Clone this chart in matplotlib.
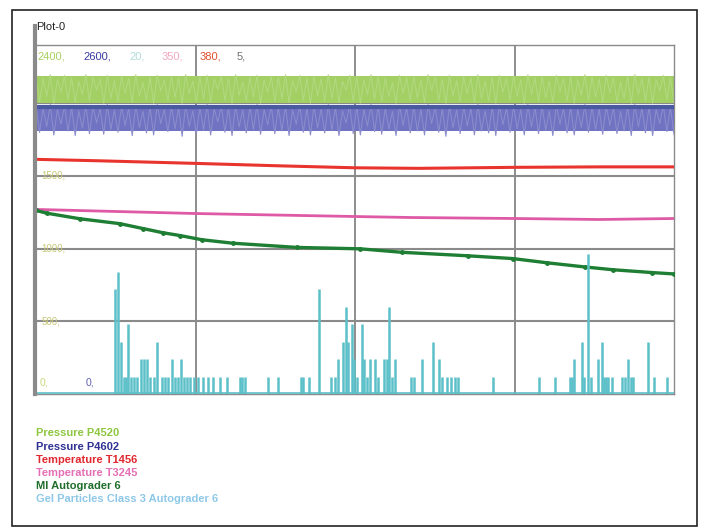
import numpy as np
import matplotlib.pyplot as plt
from matplotlib.patches import Rectangle
from matplotlib.lines import Line2D

plt.rcParams['font.family'] = ['Liberation Sans', 'DejaVu Sans']

# time axis in minutes, 4 divisions
t_end = 240

# Pressure P4520 (scale 0-2400)
p4520 = [2185, 2010, 2170, 2045, 2195, 2000, 2160, 2075, 2190, 2025, 2175, 2005,
         2150, 2060, 2195, 2015, 2180, 2090, 2165, 2000, 2190, 2035, 2155, 2010,
         2185, 2070, 2170, 2005, 2195, 2050, 2140, 2020, 2180, 2000, 2190, 2085,
         2160, 2015, 2185, 2040, 2175, 2000, 2195, 2065, 2150, 2010, 2180, 2030,
         2190, 2005, 2165, 2095, 2185, 2020, 2170, 2000, 2195, 2055, 2145, 2015,
         2180, 2040, 2190, 2000, 2160, 2075, 2185, 2010, 2175, 2030, 2195, 2005,
         2155, 2080, 2190, 2020, 2170, 2000, 2185, 2050, 2165, 2010, 2195, 2035,
         2175, 2005, 2150, 2090, 2190, 2015, 2180, 2000, 2160, 2060, 2195, 2025,
         2185, 2010, 2170, 2045, 2140, 2000, 2190, 2070, 2175, 2015, 2185, 2035,
         2160, 2005, 2195, 2085, 2180, 2020, 2165, 2000, 2190, 2050, 2155, 2010,
         2185, 2065, 2175, 2005, 2195, 2030, 2150, 2015, 2180, 2000, 2190, 2075,
         2170, 2020, 2185, 2045, 2160, 2000, 2195, 2060, 2175, 2010, 2185, 2035,
         2150, 2005, 2190, 2080, 2170, 2015, 2185, 2000, 2160, 2055, 2195, 2020,
         2180, 2040, 2165, 2005, 2190, 2070, 2175, 2010, 2145, 2030, 2185, 2000,
         2195, 2060, 2170, 2015, 2180, 2000, 2160, 2085, 2190, 2025, 2175, 2005]

# Pressure P4602 (scale 0-2600)
p4602 = [2150, 1950, 2130, 1990, 2155, 1930, 2120, 2010, 2145, 1960, 2135, 1925,
         2110, 1980, 2150, 1940, 2140, 2020, 2125, 1935, 2155, 1970, 2115, 1950,
         2145, 2000, 2130, 1925, 2150, 1985, 2105, 1945, 2140, 1930, 2155, 2015,
         2120, 1955, 2145, 1975, 2135, 1920, 2150, 1995, 2110, 1940, 2140, 1965,
         2155, 1930, 2125, 2025, 2145, 1950, 2130, 1925, 2150, 1990, 2115, 1945,
         2140, 1970, 2155, 1935, 2120, 2005, 2145, 1940, 2135, 1960, 2150, 1925,
         2115, 2010, 2150, 1950, 2130, 1930, 2145, 1980, 2125, 1945, 2155, 1965,
         2135, 1925, 2110, 2020, 2150, 1940, 2140, 1930, 2120, 1995, 2155, 1955,
         2145, 1935, 2130, 1975, 2105, 1925, 2150, 2000, 2135, 1945, 2145, 1960,
         2120, 1930, 2155, 2015, 2140, 1950, 2125, 1920, 2150, 1985, 2115, 1940,
         2145, 1995, 2135, 1930, 2155, 1960, 2110, 1945, 2140, 1925, 2150, 2005,
         2130, 1950, 2145, 1975, 2120, 1930, 2155, 1990, 2135, 1940, 2145, 1965,
         2110, 1925, 2150, 2010, 2130, 1945, 2145, 1930, 2120, 1985, 2155, 1950,
         2140, 1970, 2125, 1935, 2150, 2000, 2135, 1940, 2105, 1960, 2145, 1925,
         2155, 1990, 2130, 1945, 2140, 1925, 2120, 2015, 2150, 1955, 2135, 1935]

# Temperature T1456 (scale 0-380)
t1456_t = [0, 24, 60, 92, 120, 144, 180, 212, 240]
t1456 = [255.5, 253.9, 251.1, 248.4, 246.3, 245.7, 246.8, 247.3, 247.3]

# Temperature T3245 (scale 0-350)
t3245_t = [0, 60, 120, 141, 180, 212, 240]
t3245 = [185.1, 181.0, 178.0, 177.0, 176.0, 175.0, 176.0]

# MI Autograder 6 (scale 0-5)
mi_t = [0, 4.1, 16.6, 31.6, 40.3, 47.8, 54.2, 62.4, 74.1, 98.2, 121.9,
        137.7, 162.5, 179.4, 192.2, 206.5, 217.1, 231.7, 240]
mi = [2.63, 2.59, 2.51, 2.44, 2.37, 2.31, 2.27, 2.21, 2.16, 2.10, 2.08,
      2.03, 1.98, 1.94, 1.88, 1.82, 1.78, 1.74, 1.72]

# Gel Particles Class 3 Autograder 6 (scale 0-20), counts at event times
gel_t = [29.7, 30.8, 32.0, 33.1, 33.9, 34.6, 35.7, 36.9, 38.0, 39.5, 40.6, 41.8,
         42.9, 44.4, 45.5, 47.4, 48.5, 49.7, 51.2, 52.3, 53.4, 54.5, 55.7, 56.8,
         57.9, 59.4, 60.9, 62.8, 64.7, 66.6, 69.2, 71.9, 76.7, 77.5, 78.6, 87.3,
         91.0, 99.7, 100.4, 102.7, 106.5, 111.0, 112.5, 113.6, 115.5, 116.6, 117.4,
         118.9, 119.6, 120.8, 122.6, 123.4, 124.5, 125.6, 127.5, 128.7, 130.9, 132.0,
         132.8, 133.9, 135.1, 141.1, 142.2, 145.2, 149.3, 151.6, 152.7, 154.6, 156.1,
         157.6, 158.7, 171.9, 189.2, 195.2, 200.9, 201.6, 202.4, 205.4, 206.1, 207.7,
         208.8, 211.4, 212.9, 213.7, 214.4, 215.2, 216.7, 220.4, 221.6, 222.7, 223.8,
         224.6, 230.3, 232.5, 237.4]
gel = [6, 7, 3, 1, 1, 4, 1, 1, 1, 2, 2, 2,
       1, 1, 3, 1, 1, 1, 2, 1, 1, 2, 1, 1,
       1, 1, 1, 1, 1, 1, 1, 1, 1, 1, 1, 1,
       1, 1, 1, 1, 6, 1, 1, 2, 3, 5, 3,
       4, 2, 1, 4, 2, 1, 2, 2, 1, 2, 2,
       5, 1, 2, 1, 1, 2, 3, 2, 1, 1, 1,
       1, 1, 1, 1, 1, 1, 1, 2, 3, 1, 8,
       1, 2, 3, 1, 1, 1, 1, 1, 1, 2, 1,
       1, 3, 1, 1]

labels = ['Pressure P4520', 'Pressure P4602', 'Temperature T1456',
          'Temperature T3245', 'MI Autograder 6', 'Gel Particles Class 3 Autograder 6']
legend_colors = ['#8dc63f', '#2e3192', '#e0282e', '#e46fb5', '#1f6e2b', '#8ec8e8']
top_labels = ['2400,', '2600,', '20,', '350,', '380,', '5,']
top_colors = ['#a8d060', '#3a3aa0', '#b0dcd8', '#f0a8c0', '#e05030', '#707070']

fig = plt.figure(figsize=(7.04, 5.32), dpi=100)
fig.patches.append(Rectangle((12 / 704, 1 - 526 / 532), 685 / 704, 516 / 532,
                             transform=fig.transFigure, fill=False,
                             edgecolor='#222222', lw=1.2))
# left axis bar reaching up to the title
fig.lines.append(Line2D([35 / 704, 35 / 704], [1 - 394 / 532, 1 - 26 / 532],
                        transform=fig.transFigure, color='#8a8a8a', lw=3))

ax = fig.add_axes([36 / 704, 1 - 394 / 532, 638 / 704, 349 / 532])
ax.set_xlim(0, t_end)
ax.set_ylim(0, 2400)
for v in [60, 120, 180]:
    ax.axvline(v, color='#7a7a7a', lw=1.2, zorder=0)
for h in [500, 1000, 1500, 2000]:
    ax.axhline(h, color='#8a8a8a', lw=1.5, zorder=0)
ax.set_xticks([])
ax.set_yticks([])
for s in ['top', 'right', 'bottom']:
    ax.spines[s].set_color('#8a8a8a')
    ax.spines[s].set_linewidth(1.0)
ax.spines['left'].set_visible(False)

def overlay(ymax):
    a = ax.twinx()
    a.set_ylim(0, ymax)
    a.set_yticks([])
    for s in a.spines.values():
        s.set_visible(False)
    return a

# noisy pressures: solid core of the band, trace on top gives the texture
t_noise = np.linspace(0, t_end, len(p4520))
ax.fill_between(t_noise, min(p4520), np.percentile(p4520, 80),
                color='#a2d064', lw=0, zorder=2)
ax.plot(t_noise, p4520, color='#b2d880', lw=0.8, zorder=2)

ax_b = overlay(2600)
t_noise_b = np.linspace(0, t_end, len(p4602))
ax_b.fill_between(t_noise_b, np.percentile(p4602, 28), max(p4602),
                  color='#7072c2', lw=0)
ax_b.plot(t_noise_b, p4602, color='#8a8ccc', lw=0.8)
ax_b.axhline(max(p4602) - 20, color='#4a5aa0', lw=3)

ax_r = overlay(380)
ax_r.plot(t1456_t, t1456, color='#e8342c', lw=2.2)

ax_p = overlay(350)
ax_p.plot(t3245_t, t3245, color='#de5aa6', lw=2.0)

ax_m = overlay(5)
ax_m.plot(mi_t, mi, color='#1e7e34', lw=2.4, marker='o', ms=2.5)

ax_g = overlay(20)
ax_g.vlines(gel_t, 0, gel, color='#5cc0c8', lw=1.8)
ax_g.axhline(0.05, color='#5cc0c8', lw=1.2)

# scale labels
for y, lab in [(1500, '1500,'), (1000, '1000,'), (500, '500,')]:
    ax.text(2, y, lab, color='#c8c878', fontsize=7, va='center', zorder=5)
ax.text(0.006, 0.023, '0,', color='#c8d878', fontsize=7.5, transform=ax.transAxes, zorder=5)
ax.text(0.077, 0.023, '0,', color='#6060b0', fontsize=7.5, transform=ax.transAxes, zorder=5)

top_x = [0.003, 0.074, 0.147, 0.197, 0.257, 0.315]
for x, lab, c in zip(top_x, top_labels, top_colors):
    ax.text(x, 0.968, lab, color=c, fontsize=8, va='center', transform=ax.transAxes)

fig.text(36 / 704, 1 - 27 / 532, 'Plot-0', fontsize=8, va='center', color='#222222')

leg_y = [433, 447, 460, 473, 486, 499]
for y, lab, c in zip(leg_y, labels, legend_colors):
    fig.text(36 / 704, 1 - y / 532, lab, color=c, fontsize=8, fontweight='bold', va='center')

fig.savefig('out.png', dpi=100)
